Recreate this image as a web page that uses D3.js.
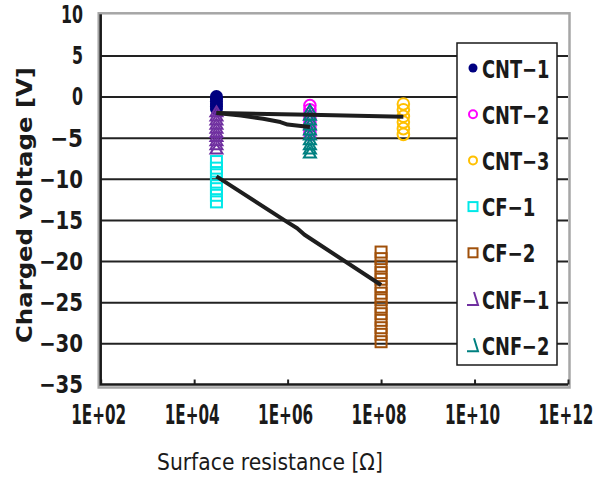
<!DOCTYPE html>
<html><head><meta charset="utf-8">
<script src="https://cdn.jsdelivr.net/npm/d3@7"></script>
<style>
html,body{margin:0;padding:0;background:#fff;}
svg{display:block;}
text{font-family:"DejaVu Sans",sans-serif;}
</style></head><body>
<svg id="chart" width="609" height="477"></svg>
<script>
// ---- data ----
const seriesNames = ["CNT-1","CNT-2","CNT-3","CF-1","CF-2","CNF-1","CNF-2"];
const seriesColors = ["#000080","#ff00ff","#ffc000","#00e8e8","#a0500a","#7030a0","#008080"];
const seriesShapes = ["filledCircle","circle","circle","square","square","triangle","triangle"];
const cnt1X = 3e4, cnt1Y = [0.0,-0.3,-0.6,-0.9,-1.2,-1.5];
const cnt2X = 3e6, cnt2Y = [-1.1,-1.6,-2.1,-2.6,-3.1,-3.6,-4.1,-4.6];
const cnt3X = 3e8, cnt3Y = [-0.9,-1.6,-2.4,-3.1,-3.9,-4.6];
const cf1X = 3e4, cf1Y = [-7.9,-8.7,-9.5,-10.4,-11.2,-12.0,-12.8];
const cf2X = 1e8, cf2Y = [-18.9,-19.7,-20.6,-21.4,-22.2,-23.1,-23.9,-24.7,-25.6,-26.4,-27.2,-28.1,-28.9,-29.8];
const cnf1X = 3e4, cnf1Y = [-1.8,-2.3,-2.8,-3.3,-3.8,-4.3,-4.8,-5.3,-5.8,-6.3];
const cnf2X = 3e6, cnf2Y = [-1.6,-2.2,-2.8,-3.4,-4.0,-4.6,-5.2,-5.8,-6.3,-6.8];
const lineAX = [3e4,1e5,3e5,7e5,1e6,3e6], lineAY = [-2.0,-2.3,-2.7,-3.1,-3.4,-3.7];
const lineBX = [3e4,3e6,3e8], lineBY = [-2.0,-2.2,-2.45];
const lineCX = [3e4,9.5e5,1.6e6,2.3e6,1e8], lineCY = [-9.7,-15.2,-16.0,-16.8,-22.9];
const xTickValues = [1e2,1e4,1e6,1e8,1e10,1e12];
const xTickLabels = ["1E+02","1E+04","1E+06","1E+08","1E+10","1E+12"];
const yTickValues = [10,5,0,-5,-10,-15,-20,-25,-30,-35];
const yTickLabels = ["10","5","0","-5","-10","-15","-20","-25","-30","-35"];
const xTitle = "Surface resistance [Ω]";
const yTitle = "Charged voltage [V]";

const seriesData = [
  [cnt1X,cnt1Y],[cnt2X,cnt2Y],[cnt3X,cnt3Y],[cf1X,cf1Y],[cf2X,cf2Y],[cnf1X,cnf1Y],[cnf2X,cnf2Y]
];

// ---- layout ----
const L=100.7, R=568, T=14.3, B=384.5;
const svg = d3.select("#chart");
const x = d3.scaleLog().domain([1e2,1e12]).range([L,R]);
const y = d3.scaleLinear().domain([-35,10]).range([B,T]);

function widthOf(s, digitW, minusW, letterW){
  let w=0;
  for(const c of s){
    if(c==="-") w+=minusW;
    else if(/[0-9+]/.test(c)) w+=digitW;
    else w+=letterW;
  }
  return w;
}
// draw text horizontally squeezed to a target width (anchor: start|middle|end)
function squeezedText(g, str, px, py, size, weight, targetW, anchor){
  const t = g.append("text").attr("font-size",size).attr("font-weight",weight)
    .attr("fill","#1a1a1a").attr("text-anchor","start").text(str);
  const w = t.node().getBBox().width || t.node().getComputedTextLength();
  const sx = targetW / w;
  const off = anchor==="middle" ? -targetW/2 : anchor==="end" ? -targetW : 0;
  t.attr("transform",`translate(${px+off},${py}) scale(${sx},1)`);
  return t;
}

// plot area gray frame
svg.append("rect").attr("x",L-2).attr("y",T-1).attr("width",R-L+3.5).attr("height",B-T+4)
  .attr("fill","#fff").attr("stroke","#a6a6a6").attr("stroke-width",2.5);

// gridlines (horizontal)
const yAxis = d3.axisLeft(y).tickValues(yTickValues.filter(v=>v!==10 && v!==-35))
  .tickSize(-(R-L)).tickFormat("");
const gy = svg.append("g").attr("transform",`translate(${L},0)`).call(yAxis);
gy.select(".domain").remove();
gy.selectAll(".tick line").attr("stroke","#222").attr("stroke-width",2);

// y tick labels
const gyl = svg.append("g");
yTickValues.forEach((v,i)=>{
  squeezedText(gyl, yTickLabels[i].replace("-","\u2212"), 83, y(v)+8.8, 24, "bold",
    widthOf(yTickLabels[i],11,22,12), "end");
});

// x axis with inside ticks
const xAxis = d3.axisBottom(x).tickValues(xTickValues).tickSize(-5).tickFormat("");
const gx = svg.append("g").attr("transform",`translate(0,${B})`).call(xAxis);
gx.select(".domain").remove();
gx.selectAll(".tick line").attr("stroke","#222").attr("stroke-width",2);

// x tick labels
const gxl = svg.append("g");
xTickValues.forEach((v,i)=>{
  squeezedText(gxl, xTickLabels[i], x(v)-2, 424, 27, "bold", 55, "middle");
});

// axis lines (left + bottom, dark)
svg.append("path").attr("d",`M${L},${T} L${L},${B} L${R},${B}`)
  .attr("fill","none").attr("stroke","#1a1a1a").attr("stroke-width",2.5);

// markers
function drawMarker(g, shape, color, cx, cy, legend){
  if(shape==="filledCircle"){
    g.append("circle").attr("cx",cx).attr("cy",cy).attr("r",legend?4.5:6.5).attr("fill",color);
  } else if(shape==="circle"){
    g.append("circle").attr("cx",cx).attr("cy",cy).attr("r",legend?4:5.8).attr("fill","none")
      .attr("stroke",color).attr("stroke-width",2);
  } else if(shape==="square"){
    const s = legend?9:11;
    g.append("rect").attr("x",cx-s/2).attr("y",cy-s/2).attr("width",s).attr("height",s)
      .attr("fill","none").attr("stroke",color).attr("stroke-width",2);
  } else if(shape==="triangle"){
    if(legend){
      g.append("path").attr("d",`M${cx+1},${cy-7} L${cx+5},${cy+6} L${cx-6},${cy+6}`)
        .attr("fill","none").attr("stroke",color).attr("stroke-width",2);
    } else {
      g.append("path").attr("d",`M${cx},${cy-5} L${cx+6},${cy+5} L${cx-6},${cy+5} Z`)
        .attr("fill","none").attr("stroke",color).attr("stroke-width",2);
    }
  }
}
const gm = svg.append("g");
seriesData.forEach((s,i)=>{
  const [sx, ys] = s;
  const g = gm.append("g");
  ys.forEach(v=>drawMarker(g, seriesShapes[i], seriesColors[i], x(sx), y(v), false));
});

// trend lines
const line = d3.line().x(d=>x(d[0])).y(d=>y(d[1]));
[[lineAX,lineAY],[lineBX,lineBY],[lineCX,lineCY]].forEach(([xs,ys])=>{
  svg.append("path").datum(xs.map((v,i)=>[v,ys[i]])).attr("d",line)
    .attr("fill","none").attr("stroke","#1e1e1e").attr("stroke-width",4).attr("stroke-linejoin","round");
});

// legend
const lg = svg.append("g");
lg.append("rect").attr("x",457).attr("y",43).attr("width",100).attr("height",322)
  .attr("fill","#fff").attr("stroke","#1a1a1a").attr("stroke-width",1.5);
seriesNames.forEach((n,i)=>{
  const cy = 68 + i*46.2;
  drawMarker(lg, seriesShapes[i], seriesColors[i], 473, cy, true);
  squeezedText(lg, n.replace("-","\u2212"), 482, cy+9.5, 25, "bold", widthOf(n,11.5,14,14), "start");
});

// axis titles
svg.append("text").attr("transform","translate(32,205) rotate(-90)").attr("text-anchor","middle")
  .attr("font-size",21).attr("font-weight","bold").attr("fill","#1a1a1a")
  .attr("textLength",276).attr("lengthAdjust","spacingAndGlyphs").text(yTitle);
squeezedText(svg, xTitle, 270, 470, 23, "normal", 226, "middle");
</script>
</body></html>
